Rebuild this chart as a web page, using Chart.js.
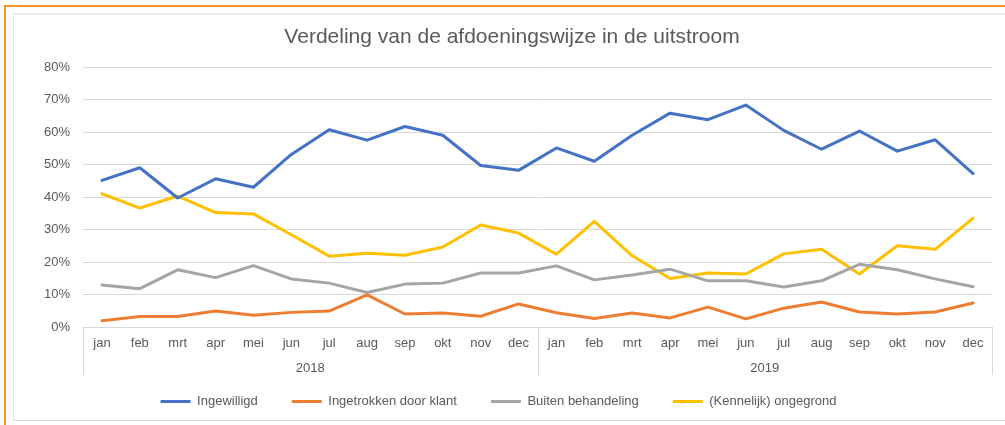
<!DOCTYPE html>
<html lang="nl">
<head>
<meta charset="utf-8">
<title>Verdeling van de afdoeningswijze in de uitstroom</title>
<script src="https://cdn.jsdelivr.net/npm/chart.js@4/dist/chart.umd.min.js"></script>
<style>
  html, body { margin: 0; padding: 0; background: #fff; }
  body { width: 1005px; height: 425px; position: relative; overflow: hidden; }
  .outer {
    position: absolute; left: 4px; top: 5px; width: 1100px; height: 500px;
    border-top: 2px solid #f7941d; border-left: 2px solid #f7941d;
  }
  .panel {
    position: absolute; left: 13px; top: 13px; width: 1100px; height: 405px;
    border-top: 2px solid #ececec; border-left: 1px solid #e6e6e6; border-bottom: 1px solid #d9d9d9;
  }
  #chart { position: absolute; left: 0; top: 0; }
</style>
</head>
<body>
<div class="outer"></div>
<div class="panel"></div>
<canvas id="chart" width="1005" height="425"></canvas>
<script>
const months = ['jan', 'feb', 'mrt', 'apr', 'mei', 'jun', 'jul', 'aug', 'sep', 'okt', 'nov', 'dec'];
const years = ['2018', '2019'];

// percentages per month, 2018 followed by 2019
const ingewilligd = [45.1, 49.0, 39.7, 45.6, 43.0, 53.1, 60.7, 57.5, 61.7, 59.0, 49.7, 48.2,
  55.1, 51.0, 59.0, 65.8, 63.8, 68.3, 60.5, 54.7, 60.3, 54.1, 57.6, 47.2];
const ingetrokken = [1.9, 3.2, 3.2, 4.9, 3.6, 4.5, 4.9, 9.9, 4.0, 4.3, 3.3, 7.1,
  4.4, 2.6, 4.3, 2.8, 6.1, 2.5, 5.8, 7.7, 4.6, 4.0, 4.6, 7.4];
const buitenBehandeling = [12.9, 11.8, 17.6, 15.2, 18.9, 14.8, 13.5, 10.6, 13.2, 13.5, 16.6, 16.6,
  18.8, 14.5, 16.0, 17.8, 14.2, 14.2, 12.3, 14.2, 19.3, 17.6, 14.8, 12.4];
const ongegrond = [41.0, 36.6, 40.3, 35.2, 34.8, 28.4, 21.8, 22.7, 22.1, 24.6, 31.4, 28.9,
  22.4, 32.5, 21.9, 14.9, 16.6, 16.3, 22.5, 23.9, 16.3, 25.0, 23.9, 33.5];

const yTicks = [0, 10, 20, 30, 40, 50, 60, 70, 80];

const chartTitle = 'Verdeling van de afdoeningswijze in de uitstroom';
const textColor = '#595959';
const lineGrey = '#d9d9d9';
const fontFamily = '"Liberation Sans", Arial, sans-serif';

// title is centred on the whole panel, not on the plot box
const panelTitle = {
  id: 'panelTitle',
  afterDraw(chart) {
    const {ctx} = chart;
    ctx.save();
    ctx.fillStyle = textColor;
    ctx.font = '21px ' + fontFamily;
    ctx.textAlign = 'center';
    ctx.textBaseline = 'middle';
    ctx.fillText(chartTitle, 512, 37);
    ctx.restore();
  }
};

// second row of the category axis: year labels with separators
const yearGroups = {
  id: 'yearGroups',
  afterDraw(chart) {
    const {ctx, chartArea} = chart;
    const x = chart.scales.x;
    const top = chartArea.bottom;
    const bottom = top + 48;
    const edges = [x.left];
    years.forEach((year, i) => {
      const last = (i + 1) * months.length - 1;
      edges.push(i === years.length - 1 ? x.right
        : (x.getPixelForValue(last) + x.getPixelForValue(last + 1)) / 2);
    });

    ctx.save();
    ctx.strokeStyle = lineGrey;
    ctx.lineWidth = 1;
    edges.forEach(px => {
      const xx = Math.round(px) + 0.5;
      ctx.beginPath();
      ctx.moveTo(xx, top);
      ctx.lineTo(xx, bottom);
      ctx.stroke();
    });

    ctx.fillStyle = textColor;
    ctx.font = '13px ' + fontFamily;
    ctx.textAlign = 'center';
    ctx.textBaseline = 'middle';
    years.forEach((year, i) => {
      ctx.fillText(year, (edges[i] + edges[i + 1]) / 2, top + 41);
    });
    ctx.restore();
  }
};

const series = [
  {label: 'Ingewilligd', data: ingewilligd, color: '#4472c4'},
  {label: 'Ingetrokken door klant', data: ingetrokken, color: '#ed7d31'},
  {label: 'Buiten behandeling', data: buitenBehandeling, color: '#a5a5a5'},
  {label: '(Kennelijk) ongegrond', data: ongegrond, color: '#ffc000'},
];

new Chart(document.getElementById('chart'), {
  type: 'line',
  data: {
    labels: years.flatMap(() => months),
    datasets: series.map(s => ({
      label: s.label,
      data: s.data,
      borderColor: s.color,
      backgroundColor: s.color,
      borderWidth: 3,
      pointRadius: 0,
      borderJoinStyle: 'round',
      borderCapStyle: 'round',
      tension: 0,
    })),
  },
  options: {
    responsive: false,
    animation: false,
    layout: {padding: {left: 5, right: 13, top: 67, bottom: 7}},
    plugins: {
      title: {display: false},
      legend: {
        position: 'bottom',
        labels: {
          color: textColor,
          font: {family: fontFamily, size: 13},
          usePointStyle: true,
          pointStyle: 'line',
          pointStyleWidth: 30,
          padding: 34,
        },
      },
      tooltip: {enabled: false},
    },
    scales: {
      x: {
        offset: true,
        grid: {display: true, drawOnChartArea: false, drawTicks: false},
        border: {display: true, color: lineGrey, width: 1},
        ticks: {
          color: textColor,
          font: {family: fontFamily, size: 13},
          padding: 9,
          maxRotation: 0,
          autoSkip: false,
        },
        afterFit(scale) { scale.height = 34; },
      },
      y: {
        min: yTicks[0],
        max: yTicks[yTicks.length - 1],
        afterBuildTicks(scale) { scale.ticks = yTicks.map(v => ({value: v})); },
        afterFit(scale) { scale.width = 78; },
        grid: {color: lineGrey, drawTicks: false},
        border: {display: false},
        ticks: {
          color: textColor,
          font: {family: fontFamily, size: 13},
          padding: 13,
          callback: v => v + '%',
        },
      },
    },
  },
  plugins: [panelTitle, yearGroups],
});
</script>
</body>
</html>
